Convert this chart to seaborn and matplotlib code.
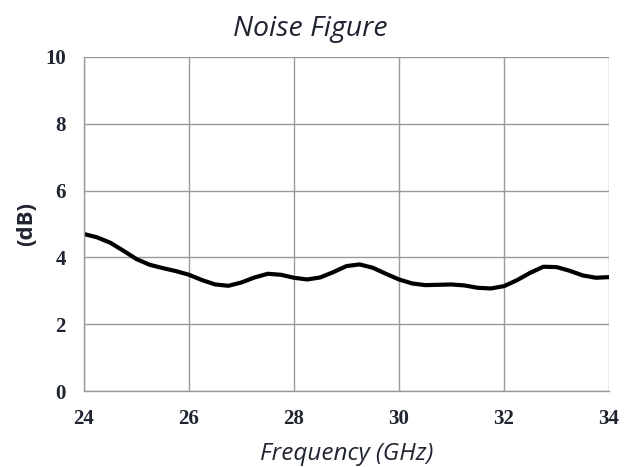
import numpy as np
import pandas as pd
import matplotlib
matplotlib.use("Agg")
import matplotlib.pyplot as plt
import seaborn as sns

# Noise figure readings (dB) vs frequency (GHz)
freq_ghz = [24.0, 24.25, 24.5, 24.75, 25.0, 25.25, 25.5, 25.75, 26.0, 26.25,
            26.5, 26.75, 27.0, 27.25, 27.5, 27.75, 28.0, 28.25, 28.5, 28.75,
            29.0, 29.25, 29.5, 29.75, 30.0, 30.25, 30.5, 30.75, 31.0, 31.25,
            31.5, 31.75, 32.0, 32.25, 32.5, 32.75, 33.0, 33.25, 33.5, 33.75, 34.0]
noise_db = [4.70, 4.60, 4.44, 4.20, 3.95, 3.78, 3.68, 3.59, 3.48, 3.32,
            3.19, 3.15, 3.25, 3.40, 3.51, 3.48, 3.39, 3.34, 3.40, 3.56,
            3.74, 3.79, 3.69, 3.51, 3.34, 3.22, 3.17, 3.18, 3.19, 3.16,
            3.09, 3.07, 3.14, 3.32, 3.54, 3.72, 3.71, 3.60, 3.46, 3.39, 3.41]

x_ticks = [24, 26, 28, 30, 32, 34]
y_ticks = [0, 2, 4, 6, 8, 10]

df = pd.DataFrame({"freq": freq_ghz, "nf": noise_db})

sns.set_theme(style="white")
text_col = "#1f2430"
grid_col = "#9a9a9a"

fig = plt.figure(figsize=(6.3, 4.67), dpi=100)
ax = fig.add_axes([0.1333, 0.1627, 0.8334, 0.7153])

sns.lineplot(data=df, x="freq", y="nf", ax=ax, color="black", linewidth=3.0)

ax.set_xlim(24, 34)
ax.set_ylim(0, 10)
ax.set_xticks(x_ticks)
ax.set_yticks(y_ticks)
ax.grid(True, color=grid_col, linewidth=1.0)
ax.set_axisbelow(True)

for side in ["top", "right"]:
    ax.spines[side].set_visible(False)
for side in ["left", "bottom"]:
    ax.spines[side].set_color(grid_col)
    ax.spines[side].set_linewidth(1.0)

ax.tick_params(axis="both", direction="out", length=5, width=1.0, color=grid_col,
               labelcolor=text_col, pad=8)
for lbl in ax.get_xticklabels() + ax.get_yticklabels():
    lbl.set_fontfamily("Liberation Serif")
    lbl.set_fontweight("bold")
    lbl.set_fontsize(15)

# title sits centred on the figure, not on the axes
ax.set_title("Noise Figure", fontfamily="Open Sans", fontstyle="italic",
             fontweight="medium", fontsize=20.5, color=text_col, pad=15, x=0.431)
ax.set_xlabel("Frequency (GHz)", fontfamily="Open Sans", fontstyle="italic",
              fontweight="medium", fontsize=17.5, color=text_col, labelpad=9)
ax.set_ylabel("(dB)", fontfamily="Open Sans", fontweight="bold",
              fontsize=16, color=text_col, labelpad=6)

fig.savefig("out.png", dpi=100)
